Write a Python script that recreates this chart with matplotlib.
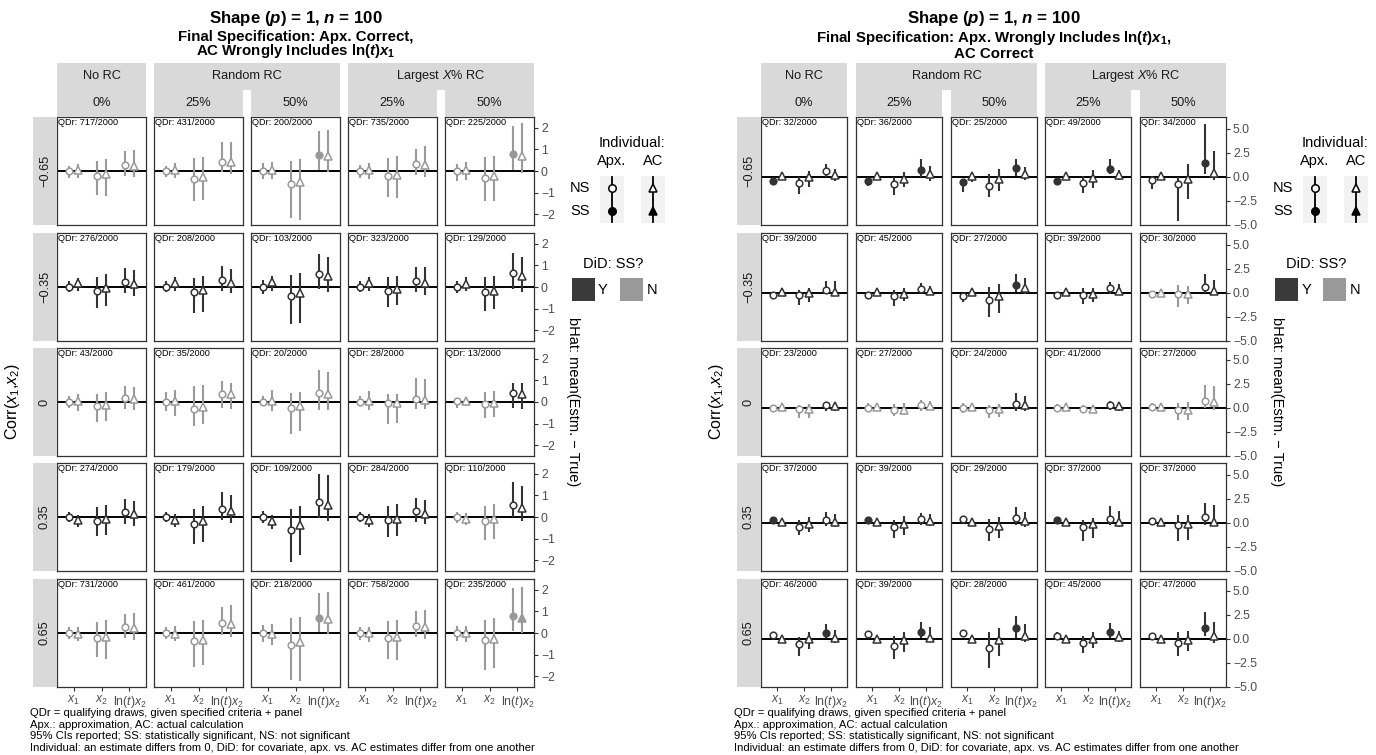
import matplotlib
matplotlib.use("Agg")
import matplotlib.pyplot as plt
from matplotlib.lines import Line2D
from matplotlib.patches import Rectangle

plt.rcParams['font.family'] = ['Liberation Sans', 'DejaVu Sans']
plt.rcParams['mathtext.fontset'] = 'custom'
plt.rcParams['mathtext.rm'] = 'Liberation Sans'
plt.rcParams['mathtext.it'] = 'Liberation Sans:italic'
plt.rcParams['mathtext.bf'] = 'Liberation Sans:bold'
plt.rcParams['mathtext.bfit'] = 'Liberation Sans:bold:italic'

# ---- data -----------------------------------------------------------------
# each panel: [x1 Apx, x1 AC, x2 Apx, x2 AC, ln(t)x2 Apx, ln(t)x2 AC]
corr_labels = ['\u22120.65', '\u22120.35', '0', '0.35', '0.65']
rc_groups = [('No RC', 0, 0), ('Random RC', 1, 2), ('Largest $X$% RC', 3, 4)]
rc_pcts = ['0%', '25%', '50%', '25%', '50%']
covariates = ['$x_1$', '$x_2$', 'ln($t$)$x_2$']

qdr_left = [[717, 431, 200, 735, 225],
            [276, 208, 103, 323, 129],
            [43, 35, 20, 28, 13],
            [274, 179, 109, 284, 110],
            [731, 461, 218, 758, 235]]
est_left = [
    [[0.0, 0.03, -0.25, -0.15, 0.28, 0.25], [0.0, 0.05, -0.37, -0.28, 0.43, 0.40],
     [0.0, 0.03, -0.60, -0.50, 0.76, 0.71], [0.0, 0.03, -0.22, -0.19, 0.33, 0.30],
     [0.0, 0.03, -0.31, -0.25, 0.79, 0.71]],
    [[0.02, 0.19, -0.20, -0.05, 0.22, 0.14], [0.0, 0.20, -0.25, -0.12, 0.31, 0.20],
     [0.02, 0.22, -0.43, -0.29, 0.62, 0.50], [0.02, 0.17, -0.17, -0.09, 0.28, 0.17],
     [0.02, 0.14, -0.25, -0.19, 0.64, 0.50]],
    [[0.0, 0.03, -0.20, -0.12, 0.20, 0.15], [0.02, 0.05, -0.33, -0.22, 0.39, 0.36],
     [0.02, 0.03, -0.29, -0.20, 0.43, 0.39], [0.0, 0.03, -0.05, -0.03, 0.14, 0.11],
     [0.05, 0.06, -0.09, -0.06, 0.40, 0.37]],
    [[0.02, -0.14, -0.20, -0.09, 0.23, 0.16], [0.02, -0.16, -0.33, -0.19, 0.39, 0.29],
     [0.02, -0.19, -0.59, -0.39, 0.68, 0.54], [0.0, -0.12, -0.16, -0.08, 0.26, 0.16],
     [0.0, -0.09, -0.19, -0.11, 0.54, 0.40]],
    [[0.02, -0.03, -0.25, -0.19, 0.28, 0.23], [0.02, -0.03, -0.39, -0.31, 0.45, 0.40],
     [0.02, -0.05, -0.56, -0.43, 0.71, 0.65], [0.0, -0.02, -0.23, -0.20, 0.31, 0.28],
     [0.0, 0.0, -0.33, -0.26, 0.78, 0.68]],
]
lo_left = [
    [[-0.31, -0.31, -1.12, -1.16, -0.22, -0.26], [-0.29, -0.31, -1.38, -1.36, -0.03, -0.15],
     [-0.37, -0.37, -2.20, -2.28, 0.05, -0.06], [-0.34, -0.39, -1.22, -1.27, -0.20, -0.26],
     [-0.47, -0.42, -1.38, -1.38, 0.03, -0.08]],
    [[-0.25, -0.17, -0.99, -0.87, -0.28, -0.40], [-0.25, -0.17, -1.22, -1.15, -0.17, -0.29],
     [-0.33, -0.17, -1.72, -1.69, -0.09, -0.25], [-0.25, -0.17, -0.91, -0.84, -0.23, -0.37],
     [-0.29, -0.17, -1.13, -1.02, -0.09, -0.25]],
    [[-0.28, -0.42, -0.93, -0.88, -0.33, -0.39], [-0.42, -0.67, -1.13, -1.04, -0.28, -0.34],
     [-0.20, -0.43, -1.47, -1.35, -0.36, -0.37], [-0.20, -0.36, -1.00, -0.96, -0.34, -0.34],
     [-0.28, -0.17, -0.73, -0.70, -0.28, -0.33]],
    [[-0.22, -0.45, -0.88, -0.82, -0.33, -0.42], [-0.22, -0.45, -1.26, -1.18, -0.14, -0.26],
     [-0.29, -0.57, -2.08, -1.77, -0.03, -0.19], [-0.25, -0.45, -0.91, -0.87, -0.25, -0.34],
     [-0.26, -0.39, -1.07, -1.00, -0.02, -0.19]],
    [[-0.28, -0.37, -1.12, -1.22, -0.22, -0.31], [-0.28, -0.37, -1.58, -1.47, -0.09, -0.19],
     [-0.42, -0.56, -2.19, -2.23, 0.03, -0.06], [-0.34, -0.40, -1.21, -1.26, -0.19, -0.28],
     [-0.37, -0.40, -1.74, -1.64, 0.08, 0.01]],
]
hi_left = [
    [[0.25, 0.33, 0.48, 0.57, 0.95, 0.99], [0.23, 0.39, 0.59, 0.65, 1.33, 1.35],
     [0.36, 0.40, 0.47, 0.57, 1.86, 1.91], [0.28, 0.36, 0.59, 0.68, 1.00, 1.16],
     [0.33, 0.40, 0.65, 0.68, 2.08, 2.25]],
    [[0.26, 0.42, 0.48, 0.60, 0.90, 0.81], [0.26, 0.48, 0.40, 0.50, 0.96, 0.85],
     [0.33, 0.51, 0.56, 0.67, 1.52, 1.41], [0.26, 0.45, 0.45, 0.53, 0.95, 0.95],
     [0.29, 0.45, 0.48, 0.53, 1.58, 1.41]],
    [[0.26, 0.36, 0.39, 0.47, 0.73, 0.68], [0.45, 0.54, 0.76, 0.79, 0.96, 0.88],
     [0.28, 0.54, 0.43, 0.48, 1.50, 1.38], [0.28, 0.51, 0.36, 0.39, 1.13, 1.07],
     [0.20, 0.17, 0.47, 0.50, 0.90, 0.88]],
    [[0.23, 0.09, 0.48, 0.57, 0.84, 0.74], [0.23, 0.14, 0.37, 0.53, 1.16, 1.04],
     [0.29, 0.09, 0.37, 0.51, 1.98, 1.95], [0.25, 0.14, 0.53, 0.60, 0.87, 0.79],
     [0.25, 0.17, 0.53, 0.60, 1.64, 1.44]],
    [[0.26, 0.28, 0.50, 0.59, 0.88, 0.93], [0.26, 0.31, 0.54, 0.62, 1.19, 1.29],
     [0.39, 0.40, 0.68, 0.76, 1.88, 1.89], [0.28, 0.28, 0.54, 0.62, 1.02, 1.05],
     [0.33, 0.33, 0.59, 0.68, 2.08, 2.16]],
]
# individual SS flags (1 = filled) and DiD SS per covariate (Y dark / N grey)
ss_left = [['000000', '000000', '000010', '000000', '000010'],
           ['000000'] * 5,
           ['000000'] * 5,
           ['000000'] * 5,
           ['000000', '000000', '000010', '000000', '000011']]
did_left = [['NNN'] * 5,
            ['YYY'] * 5,
            ['NNN', 'NNN', 'NNN', 'NNN', 'NNY'],
            ['YYY', 'YYY', 'YYY', 'YYY', 'NNY'],
            ['NNN'] * 5]

qdr_right = [[32, 36, 25, 49, 34],
             [39, 45, 27, 39, 30],
             [23, 27, 24, 41, 27],
             [37, 39, 29, 37, 37],
             [46, 39, 28, 45, 47]]
est_right = [
    [[-0.45, 0.10, -0.59, -0.03, 0.59, 0.17], [-0.45, 0.07, -0.76, -0.24, 0.73, 0.28],
     [-0.52, 0.10, -0.94, -0.24, 0.94, 0.28], [-0.42, 0.10, -0.59, -0.07, 0.87, 0.21],
     [-0.31, 0.07, -0.73, -0.24, 1.42, 0.42]],
    [[-0.21, 0.10, -0.24, -0.03, 0.35, 0.14], [-0.24, 0.10, -0.31, -0.10, 0.45, 0.21],
     [-0.35, 0.10, -0.76, -0.31, 0.87, 0.56], [-0.21, 0.10, -0.21, -0.07, 0.49, 0.21],
     [-0.10, 0.0, -0.14, -0.10, 0.63, 0.24]],
    [[0.0, 0.10, -0.14, -0.14, 0.28, 0.17], [0.0, 0.07, -0.24, -0.24, 0.28, 0.24],
     [0.0, 0.07, -0.17, -0.10, 0.38, 0.28], [0.0, 0.07, -0.10, -0.10, 0.28, 0.17],
     [0.10, 0.07, -0.24, -0.24, 0.69, 0.59]],
    [[0.28, 0.07, -0.38, -0.14, 0.31, 0.14], [0.35, 0.07, -0.38, -0.10, 0.38, 0.17],
     [0.38, 0.10, -0.59, -0.28, 0.52, 0.24], [0.28, 0.07, -0.38, -0.14, 0.38, 0.14],
     [0.21, 0.07, -0.24, -0.10, 0.59, 0.14]],
    [[0.42, 0.03, -0.56, -0.03, 0.66, 0.14], [0.52, 0.03, -0.76, -0.10, 0.76, 0.14],
     [0.59, 0.03, -0.97, -0.14, 1.11, 0.28], [0.35, 0.0, -0.45, 0.0, 0.76, 0.17],
     [0.31, 0.03, -0.45, -0.07, 1.18, 0.28]],
]
lo_right = [
    [[-0.83, -0.24, -1.80, -1.04, 0.03, -0.42], [-0.90, -0.24, -1.90, -1.04, 0.00, -0.42],
     [-1.53, -0.52, -2.15, -1.46, 0.14, -0.28], [-0.83, -0.24, -1.63, -1.11, 0.28, -0.28],
     [-1.28, -0.24, -4.58, -2.33, 0.28, -0.35]],
    [[-0.49, -0.14, -1.25, -0.97, -0.14, -0.21], [-0.49, -0.14, -1.35, -0.83, -0.03, -0.14],
     [-0.90, -0.28, -2.47, -2.12, 0.14, -0.14], [-0.42, -0.21, -1.18, -0.90, -0.07, -0.21],
     [-0.28, -0.24, -1.42, -1.18, -0.03, -0.21]],
    [[-0.35, -0.17, -1.04, -1.04, -0.28, -0.28], [-0.42, -0.28, -0.87, -0.76, -0.28, -0.21],
     [-0.52, -0.17, -1.04, -0.97, -0.28, -0.35], [-0.35, -0.17, -0.52, -0.45, -0.17, -0.28],
     [-0.17, -0.17, -1.28, -1.22, 0.0, -0.17]],
    [[0.10, -0.17, -1.28, -0.97, -0.28, -0.38], [0.17, -0.17, -1.56, -1.28, -0.24, -0.35],
     [0.17, -0.14, -1.84, -1.56, -0.17, -0.38], [0.10, -0.17, -1.84, -1.56, -0.24, -0.38],
     [-0.10, -0.17, -1.84, -1.74, -0.24, -0.35]],
    [[0.14, -0.21, -1.77, -1.04, 0.05, -0.38], [0.24, -0.21, -2.12, -1.39, 0.14, -0.35],
     [0.24, -0.21, -3.06, -1.77, 0.07, -0.35], [0.0, -0.24, -1.49, -0.90, 0.07, -0.35],
     [0.0, -0.21, -1.77, -1.25, 0.35, -0.45]],
]
hi_right = [
    [[-0.17, 0.28, 0.03, 0.59, 1.39, 0.80], [-0.24, 0.35, 0.00, 0.52, 1.84, 1.15],
     [-0.24, 0.35, 0.28, 0.80, 1.84, 1.04], [-0.14, 0.31, 0.10, 0.69, 1.84, 0.69],
     [0.07, 0.28, 0.00, 1.32, 5.49, 2.71]],
    [[0.03, 0.28, 0.31, 0.49, 1.28, 1.25], [-0.03, 0.28, 0.31, 0.49, 1.00, 0.76],
     [-0.03, 0.35, 0.66, 0.90, 1.98, 1.60], [0.0, 0.31, 0.49, 0.56, 1.11, 0.94],
     [0.14, 0.24, 0.83, 0.73, 1.98, 1.35]],
    [[0.35, 0.35, 0.35, 0.42, 0.63, 0.63], [0.52, 0.35, 0.42, 0.52, 0.87, 0.69],
     [0.52, 0.28, 0.28, 0.45, 1.56, 1.20], [0.42, 0.28, 0.35, 0.35, 0.70, 0.63],
     [0.49, 0.28, 0.52, 0.59, 2.36, 2.26]],
    [[0.45, 0.24, 0.28, 0.59, 1.11, 0.94], [0.52, 0.24, 0.35, 0.69, 1.04, 0.94],
     [0.59, 0.28, 0.45, 0.66, 1.63, 1.15], [0.52, 0.24, 0.35, 0.52, 1.74, 1.28],
     [0.52, 0.24, 0.87, 0.87, 2.08, 1.84]],
    [[0.69, 0.24, 0.24, 0.69, 1.56, 0.94], [0.78, 0.24, 0.35, 0.76, 1.80, 1.22],
     [0.94, 0.28, 0.69, 1.18, 2.43, 1.56], [0.69, 0.24, 0.35, 0.69, 1.63, 0.87],
     [0.62, 0.24, 0.69, 0.87, 2.78, 1.74]],
]
ss_right = [['100000', '100010', '100010', '100010', '000010'],
            ['000000', '000000', '000010', '000000', '000000'],
            ['000000'] * 5,
            ['100000', '100000', '000000', '100000', '000000'],
            ['000010'] * 5]
did_right = [['YYY'] * 5,
             ['YYY', 'YYY', 'YYY', 'YYY', 'NNY'],
             ['NNY', 'NNN', 'NNY', 'NNY', 'NNN'],
             ['YYY'] * 5,
             ['YYY'] * 5]

footnotes = ['QDr = qualifying draws, given specified criteria + panel',
             'Apx.: approximation, AC: actual calculation',
             '95% CIs reported; SS: statistically significant, NS: not significant',
             'Individual: an estimate differs from 0, DiD: for covariate, apx. vs. AC estimates differ from one another']

# ---- layout (pixels) ------------------------------------------------------
W, H = 1376, 755
DARK, LIGHT = '#333333', '#999999'
STRIP = '#d9d9d9'
AXIS_TXT = '#4d4d4d'
row_tops = [117, 233, 348, 463, 579]
row_h = 108

fig = plt.figure(figsize=(W / 100, H / 100), dpi=100, facecolor='white')


def px_axes(x, y, w, h):
    return fig.add_axes([x / W, 1 - (y + h) / H, w / W, h / H])


def px_rect(x, y, w, h, color):
    fig.add_artist(Rectangle((x / W, 1 - (y + h) / H), w / W, h / H,
                             transform=fig.transFigure, facecolor=color,
                             edgecolor='none'))


def px_text(x, y, s, **kw):
    fig.text(x / W, 1 - y / H, s, **kw)


def px_line(xs, ys, **kw):
    fig.add_artist(Line2D([x / W for x in xs], [1 - y / H for y in ys],
                          transform=fig.transFigure, **kw))


def draw_side(lefts, pw, ylim, yticks, yticklabels, qdr, est, lo, hi, ss, did,
              title, subtitle, ylab_x, legend_x):
    cx = (lefts[0] + lefts[-1] + pw) / 2
    px_text(cx, 18, title, ha='center', va='center', fontsize=12.2, fontweight='bold')
    px_text(cx, 45, subtitle, ha='center', va='center', fontsize=10.8,
            fontweight='bold', linespacing=0.92)

    # column strips (two levels)
    for name, c0, c1 in rc_groups:
        x0, x1 = lefts[c0], lefts[c1] + pw
        px_rect(x0, 63, x1 - x0, 27, STRIP)
        px_text((x0 + x1) / 2, 76, name, ha='center', va='center', fontsize=9.2, color='#1a1a1a')
    for c, pct in enumerate(rc_pcts):
        px_rect(lefts[c], 90, pw, 27, STRIP)
        px_text(lefts[c] + pw / 2, 103, pct, ha='center', va='center', fontsize=9.2, color='#1a1a1a')

    # row strips
    sx = lefts[0] - 24
    for r, lab in enumerate(corr_labels):
        px_rect(sx, row_tops[r], 24, row_h, STRIP)
        px_text(sx + 12, row_tops[r] + row_h / 2, lab, ha='center', va='center',
                rotation=90, fontsize=9.2, color='#1a1a1a')
    px_text(sx - 20, row_tops[0] + (row_tops[-1] + row_h - row_tops[0]) / 2,
            r'Corr($x_1$,$x_2$)', ha='center', va='center', rotation=90, fontsize=11.5)

    for r in range(5):
        for c in range(5):
            ax = px_axes(lefts[c], row_tops[r], pw, row_h)
            ax.set_xlim(0.4, 3.6)
            ax.set_ylim(*ylim)
            for sp in ax.spines.values():
                sp.set_color(DARK)
                sp.set_linewidth(0.9)
            ax.axhline(0, color='black', lw=1.4, zorder=1)
            for k in range(3):
                col = DARK if did[r][c][k] == 'Y' else LIGHT
                for j, (dx, mk, ms) in enumerate([(-0.17, 'o', 4.8), (0.17, '^', 5.4)]):
                    i = 2 * k + j
                    xx = k + 1 + dx
                    ax.plot([xx, xx], [lo[r][c][i], hi[r][c][i]], color=col,
                            lw=1.5, solid_capstyle='butt', zorder=2)
                    face = col if ss[r][c][i] == '1' else 'white'
                    ax.plot([xx], [est[r][c][i]], marker=mk, ms=ms, mfc=face,
                            mec=col, mew=1.1, zorder=3)
            ax.text(0.01, 0.995, f'QDr: {qdr[r][c]}/2000', transform=ax.transAxes,
                    ha='left', va='top', fontsize=6.6, color='black')
            ax.tick_params(length=3, width=0.8, color=DARK, labelcolor=AXIS_TXT)
            if r == 4:
                ax.set_xticks([1, 2, 3])
                ax.set_xticklabels(covariates, fontsize=8.8)
                ax.tick_params(axis='x', pad=2)
            else:
                ax.set_xticks([])
            if c == 4:
                ax.yaxis.tick_right()
                ax.set_yticks(yticks)
                ax.set_yticklabels(yticklabels, fontsize=8.8)
                ax.tick_params(axis='y', pad=2)
            else:
                ax.set_yticks([])

    px_text(ylab_x, row_tops[0] + (row_tops[-1] + row_h - row_tops[0]) / 2,
            'bHat: mean(Estm. \u2212 True)', ha='center', va='center',
            rotation=270, fontsize=10.5)

    # legends
    lx = legend_x
    px_text(lx + 20, 143, 'Individual:', ha='center', va='center', fontsize=10.5)
    px_text(lx, 161, 'Apx.', ha='center', va='center', fontsize=10.5)
    px_text(lx + 41, 161, 'AC', ha='center', va='center', fontsize=10.5)
    px_text(lx - 32, 188, 'NS', ha='center', va='center', fontsize=10.5)
    px_text(lx - 32, 211, 'SS', ha='center', va='center', fontsize=10.5)
    for kx, mk, ms in [(lx, 'o', 5.4), (lx + 41, '^', 6.0)]:
        px_rect(kx - 12, 176, 24, 47, '#f2f2f2')
        for ky, face in [(188, 'white'), (211, 'black')]:
            px_line([kx, kx], [ky - 11, ky + 11], color='black', lw=1.3)
            px_line([kx], [ky], marker=mk, ms=ms, mfc=face, mec='black', mew=1.1)

    px_text(lx + 1, 264, 'DiD: SS?', ha='center', va='center', fontsize=10.5)
    px_rect(lx - 40, 278, 23, 23, '#3a3a3a')
    px_text(lx - 9, 290, 'Y', ha='center', va='center', fontsize=10.5)
    px_rect(lx + 8, 278, 23, 23, LIGHT)
    px_text(lx + 40, 290, 'N', ha='center', va='center', fontsize=10.5)

    for i, line in enumerate(footnotes):
        px_text(lefts[0] - 27, 713 + 11.6 * i, line, ha='left', va='center', fontsize=8.1)


draw_side([57, 154, 251, 348, 445], 89, (-2.51, 2.51), [-2, -1, 0, 1, 2],
          ['\u22122', '\u22121', '0', '1', '2'],
          qdr_left, est_left, lo_left, hi_left, ss_left, did_left,
          r'Shape ($\mathbfit{p}$) = 1, $\mathbfit{n}$ = 100',
          'Final Specification: Apx. Correct,\n'
          r'AC Wrongly Includes ln($\mathbfit{t}$)$\mathbfit{x}_\mathbf{1}$',
          573, 612)

draw_side([761, 856, 951, 1045, 1140], 86, (-5.02, 6.25), [-5, -2.5, 0, 2.5, 5],
          ['\u22125.0', '\u22122.5', '0.0', '2.5', '5.0'],
          qdr_right, est_right, lo_right, hi_right, ss_right, did_right,
          r'Shape ($\mathbfit{p}$) = 1, $\mathbfit{n}$ = 100',
          r'Final Specification: Apx. Wrongly Includes ln($\mathbfit{t}$)$\mathbfit{x}_\mathbf{1}$,'
          '\nAC Correct',
          1277, 1315)

fig.savefig('out.png', dpi=100, facecolor='white')
